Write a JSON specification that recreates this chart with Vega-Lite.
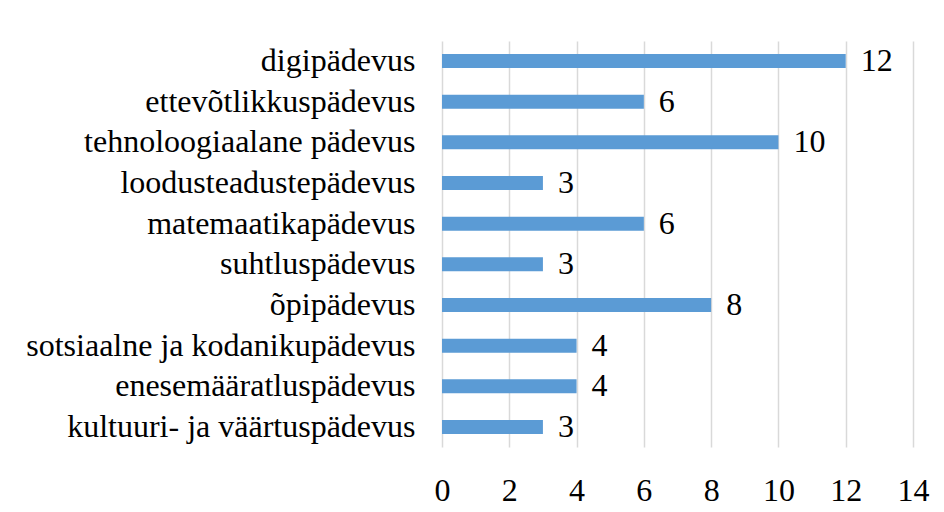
{
  "$schema": "https://vega.github.io/schema/vega-lite/v6.json",
  "width": 471,
  "height": 406,
  "autosize": "none",
  "padding": {"left": 442, "top": 41, "right": 31, "bottom": 65},
  "background": "white",
  "config": {"view": {"stroke": null}, "font": "Liberation Serif"},
  "data": {"values": [
    {"kategooria": "digipädevus", "arv": 12},
    {"kategooria": "ettevõtlikkuspädevus", "arv": 6},
    {"kategooria": "tehnoloogiaalane pädevus", "arv": 10},
    {"kategooria": "loodusteadustepädevus", "arv": 3},
    {"kategooria": "matemaatikapädevus", "arv": 6},
    {"kategooria": "suhtluspädevus", "arv": 3},
    {"kategooria": "õpipädevus", "arv": 8},
    {"kategooria": "sotsiaalne ja kodanikupädevus", "arv": 4},
    {"kategooria": "enesemääratluspädevus", "arv": 4},
    {"kategooria": "kultuuri- ja väärtuspädevus", "arv": 3}
  ]},
  "encoding": {
    "y": {
      "field": "kategooria", "type": "nominal", "sort": null,
      "scale": {"paddingInner": 0.656, "paddingOuter": 0.32},
      "axis": {"title": null, "domain": false, "ticks": false, "labelFontSize": 32, "labelColor": "#000000", "labelPadding": 27, "labelLimit": 500}
    },
    "x": {
      "field": "arv", "type": "quantitative",
      "scale": {"domain": [0, 14], "nice": false},
      "axis": {"title": null, "domain": false, "ticks": false, "values": [0, 2, 4, 6, 8, 10, 12, 14], "grid": true, "gridColor": "#D9D9D9", "gridWidth": 1.5, "labelFontSize": 32, "labelColor": "#000000", "labelPadding": 28, "labelFlush": false, "labelOverlap": false}
    }
  },
  "layer": [
    {"mark": {"type": "bar", "color": "#5B9BD5"}},
    {"mark": {"type": "text", "align": "left", "dx": 15, "fontSize": 32, "color": "#000000", "baseline": "middle"},
     "encoding": {"text": {"field": "arv", "type": "quantitative"}}}
  ]
}
